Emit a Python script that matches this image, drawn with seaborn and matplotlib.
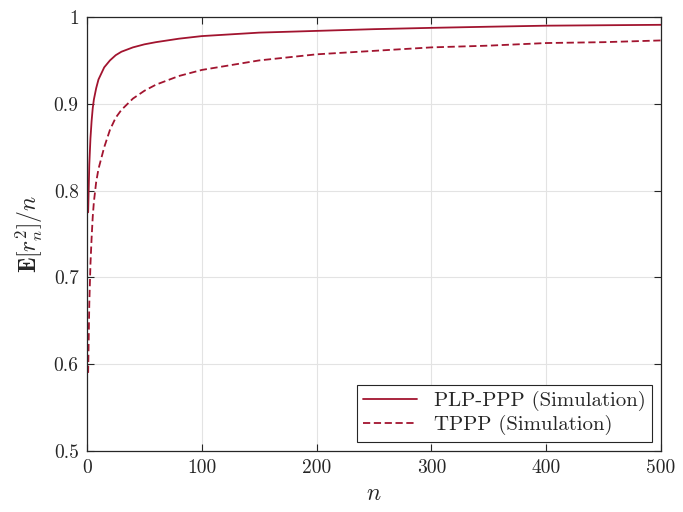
import numpy as np
import pandas as pd
import seaborn as sns
import matplotlib
from matplotlib import pyplot as plt

# values
n_vals = [1, 2, 3, 4, 5, 6, 8, 10, 15, 20, 25, 30, 40, 50, 60, 70, 80, 100,
          150, 200, 250, 300, 350, 400, 450, 500]
plp_ppp = [0.775, 0.830, 0.860, 0.880, 0.895, 0.905, 0.918, 0.928, 0.942, 0.950,
           0.956, 0.960, 0.965, 0.9685, 0.971, 0.973, 0.975, 0.978,
           0.982, 0.984, 0.986, 0.9875, 0.9888, 0.990, 0.9905, 0.991]
tppp = [0.590, 0.670, 0.715, 0.745, 0.770, 0.787, 0.810, 0.825, 0.850, 0.870,
        0.884, 0.893, 0.906, 0.915, 0.922, 0.927, 0.932, 0.939,
        0.950, 0.957, 0.961, 0.965, 0.967, 0.970, 0.971, 0.973]

x_ticks = [0, 100, 200, 300, 400, 500]
y_ticks = [0.5, 0.6, 0.7, 0.8, 0.9, 1.0]
y_ticklabels = ['0.5', '0.6', '0.7', '0.8', '0.9', '1']

df = pd.DataFrame({
    'n': n_vals * 2,
    'value': plp_ppp + tppp,
    'series': ['PLP-PPP (Simulation)'] * len(n_vals) + ['TPPP (Simulation)'] * len(n_vals),
})

sns.set_style("whitegrid")
plt.rcParams['font.family'] = ['cmr10', 'DejaVu Serif']
plt.rcParams['mathtext.fontset'] = 'cm'
plt.rcParams['axes.formatter.use_mathtext'] = True

fig = plt.figure(figsize=(6.83, 5.12), dpi=100)
ax = fig.add_axes([87 / 683, 1 - 451 / 512, (661 - 87) / 683, (451 - 17) / 512])

red = '#A2142F'
sns.lineplot(data=df, x='n', y='value', style='series', ax=ax, color=red,
             linewidth=1.3, dashes=[(None, None), (4, 2)])
ax.lines[0].set_linestyle('-')

ax.set_xlim(0, 500)
ax.set_ylim(0.5, 1.0)
ax.set_xticks(x_ticks)
ax.set_xticklabels([str(t) for t in x_ticks])
ax.set_yticks(y_ticks)
ax.set_yticklabels(y_ticklabels)
ax.tick_params(labelsize=14, direction='in', length=5, width=0.8, color='#262626',
               top=True, right=True, left=True, bottom=True, pad=6)
ax.grid(True, color='#e3e3e3', linewidth=0.8)
for s in ax.spines.values():
    s.set_color('#262626')
    s.set_linewidth(0.9)

ax.set_xlabel(r'$n$', fontsize=17, labelpad=4)
ax.set_ylabel(r'$\mathbf{E}[r_n^2]/n$', fontsize=17, labelpad=6)

leg = ax.legend(loc='lower right', fontsize=15, frameon=True, fancybox=False,
                framealpha=1, edgecolor='#262626', borderpad=0.3,
                handlelength=2.6, labelspacing=0.2, borderaxespad=0.45)
leg.get_frame().set_linewidth(0.8)
leg.set_title(None)

plt.savefig("out.png", dpi=100)
